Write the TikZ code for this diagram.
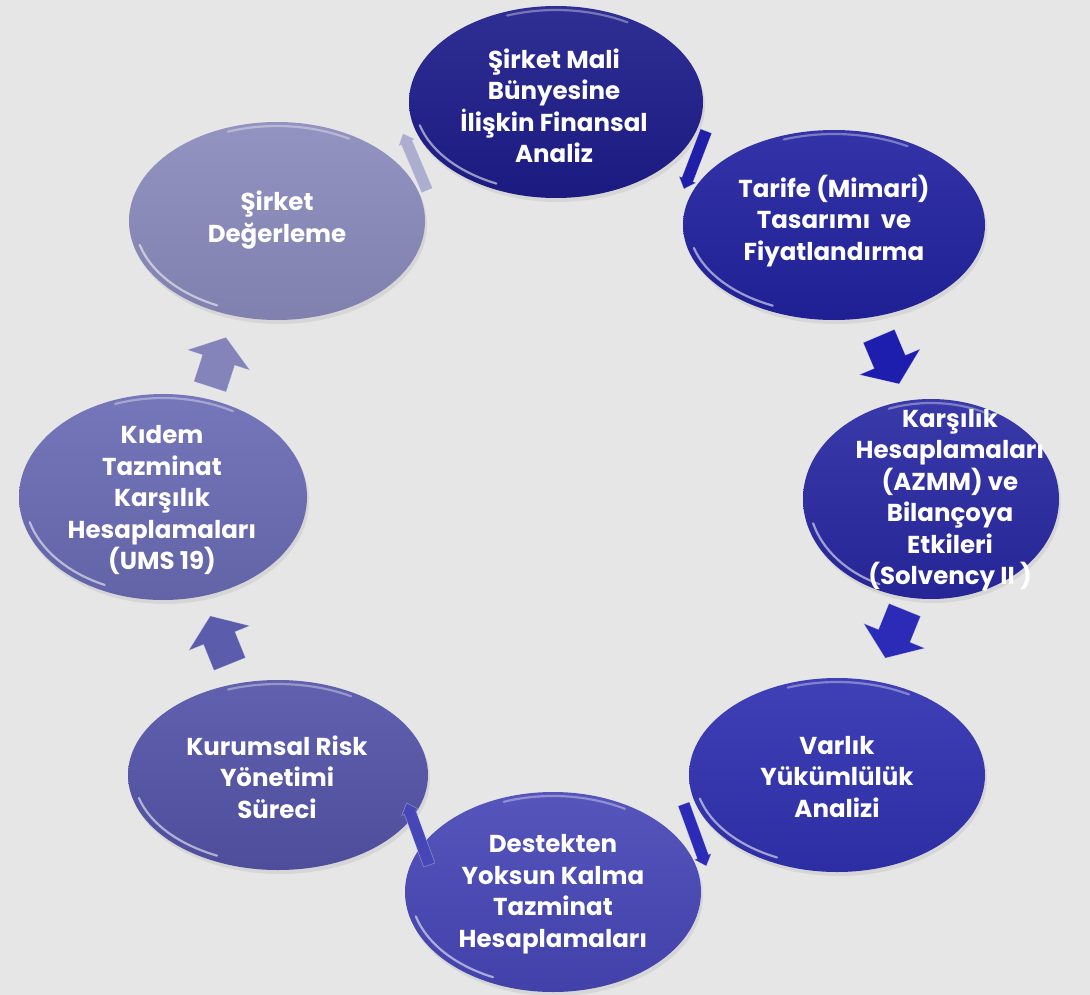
\documentclass[tikz,border=0pt]{standalone}
\usepackage{fontspec}
\setmainfont{Poppins}
\usetikzlibrary{shapes.geometric,shadows}
\definecolor{bg}{HTML}{E6E6E6}
\definecolor{cA}{HTML}{1C1C8A}
\definecolor{cB}{HTML}{2222A0}
\definecolor{cC}{HTML}{2828A2}
\definecolor{cD}{HTML}{3030B0}
\definecolor{cE}{HTML}{4646B6}
\definecolor{cF}{HTML}{5353A8}
\definecolor{cG}{HTML}{6A6AB4}
\definecolor{cH}{HTML}{8A8ABC}
\tikzset{
  blob/.style={ellipse, inner sep=0pt, outer sep=0pt,
    drop shadow={opacity=0.15, shadow xshift=2pt, shadow yshift=-4pt}},
  rim/.style={white, opacity=0.55, line width=2.2pt, line cap=round},
  txt/.style={text=white, font=\fontsize{24.5}{31.5}\selectfont\bfseries, align=center, inner sep=0pt},
  barrow/.style={draw=white, draw opacity=0.35, line width=0.6pt, line join=round}
}
% \blob{name}{cx}{cy}{rx}{ry}{colour}
\newcommand\blob[6]{%
  \node[blob, minimum width={2*#4}, minimum height={2*#5},
        top color=#6!92!white, bottom color=#6!93!black] (#1) at (#2,#3) {};
  \draw[rim] ([shift={(#2,#3)}]115:{#4-6} and {#5-6})
     arc[start angle=115, end angle=165, x radius={#4-6}, y radius={#5-6}];
  \draw[rim, opacity=0.35] ([shift={(#2,#3)}]250:{#4-4} and {#5-4})
     arc[start angle=250, end angle=300, x radius={#4-4}, y radius={#5-4}];
}
% \barr{cx}{cy}{angle}{length}{headwidth}{shaftwidth}{headlength}{colour}
\newcommand\barr[8]{%
  \fill[#8, shift={(#1,#2)}, rotate=#3, barrow]
    ({-#4/2},{-#6/2}) -- ({#4/2-#7},{-#6/2}) -- ({#4/2-#7},{-#5/2}) --
    ({#4/2},0) -- ({#4/2-#7},{#5/2}) -- ({#4/2-#7},{#6/2}) -- ({-#4/2},{#6/2}) -- cycle;
}
\begin{document}
\begin{tikzpicture}[x=1pt,y=-1pt]
\useasboundingbox (0,0) rectangle (1090,995);
\fill[bg] (0,0) rectangle (1090,995);

\blob{e1}{556}{102}{147}{96}{cA}
\blob{e2}{834}{225}{151}{95}{cB}
\blob{e3}{931}{499}{128}{100}{cC}
\blob{e4}{837}{775}{148}{97}{cD}
\blob{e5}{553}{892}{148}{100}{cE}
\blob{e6}{278}{775}{150}{95}{cF}
\blob{e7}{163}{497}{144}{103}{cG}
\blob{e8}{277}{221}{148}{99}{cH}

\node[txt] (t1) at (554,106) {Şirket Mali\\Bünyesine\\İlişkin Finansal\\Analiz};
\node[txt] (t2) at (834,221) {Tarife (Mimari)\\Tasarımı~~ve\\Fiyatlandırma};
\node[txt] (t3) at (950,500) {Karşılık\\Hesaplamaları\\(AZMM) ve\\Bilançoya\\Etkileri\\(Solvency II )};
\node[txt] (t4) at (837,777) {Varlık\\Yükümlülük\\Analizi};
\node[txt] (t5) at (553,894) {Destekten\\Yoksun Kalma\\Tazminat\\Hesaplamaları};
\node[txt] (t6) at (277,777) {Kurumsal Risk\\Yönetimi\\Süreci};
\node[txt] (t7) at (162,500) {Kıdem\\Tazminat\\Karşılık\\Hesaplamaları\\(UMS 19)};
\node[txt] (t8) at (277,220) {Şirket\\Değerleme};

% block arrows (fat)
\barr{889}{360}{-67}{52}{66}{34}{24}{cB!85!blue}
\barr{895}{634}{-112}{52}{66}{34}{24}{cD!90!blue}
\barr{220}{640}{112}{52}{66}{34}{24}{cF!95!white}
\barr{218}{362}{72}{52}{66}{34}{24}{cH!80!cG}
% thin (edge-on) arrows
\barr{415}{162}{113}{62}{18}{12}{10}{cH!70!white}
\barr{695}{160}{-111}{62}{18}{12}{10}{cB!90!blue}
\barr{695}{835}{-70}{66}{18}{12}{10}{cD!90!blue}
\barr{418}{834}{110}{66}{18}{12}{10}{cE}
\end{tikzpicture}
\end{document}
